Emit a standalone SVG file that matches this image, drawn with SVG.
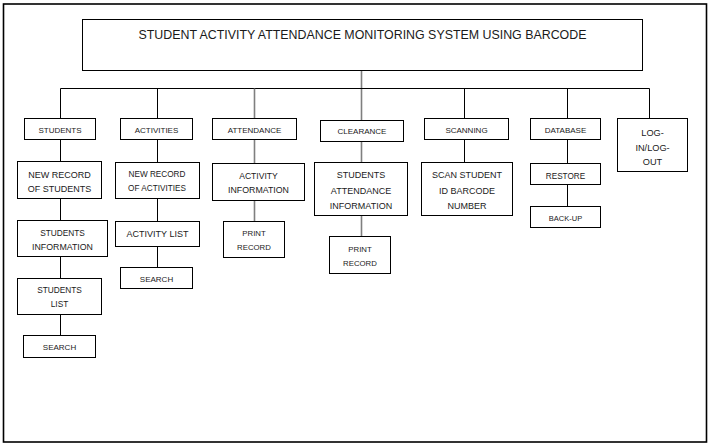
<svg xmlns="http://www.w3.org/2000/svg" width="712" height="445" viewBox="0 0 712 445">
<style>
.b{fill:#fff;stroke:#000;stroke-width:1}
.t{font-family:"Liberation Sans",Arial,sans-serif;fill:#1a1a1a;text-anchor:middle}
.c{stroke:#000;stroke-width:1;fill:none}
.g{stroke:#7f7f7f;stroke-width:1.6;fill:none}
</style>
<rect x="0" y="0" width="712" height="445" fill="#fff"/>
<rect x="3.5" y="4" width="703" height="438" fill="#fff" stroke="#000" stroke-width="1.6"/>
<g id="connectors">
<path class="g" d="M361.5 70.5V120"/>
<path class="c" d="M60.5 88.5H649.5"/>
<path class="c" d="M60.5 88.5V118.5M60.5 139.5V161.5M60.5 198.5V220.5M60.5 256.5V278.5M60.5 314.5V335.5"/>
<path class="c" d="M157.5 88.5V118.5M157.5 139.5V162.5M157.5 198.5V221.5M157.5 246.5V267.5"/>
<path class="g" d="M254.5 88.5V118.5M254.5 139.5V163.5M254.5 200.5V221.5"/>
<path class="g" d="M361.5 141.5V162.5M361.5 215.5V236.5"/>
<path class="c" d="M464.5 88.5V118.5M464.5 139.5V162.5"/>
<path class="c" d="M567.5 88.5V118.5M567.5 139.5V163.5M567.5 184.5V206.5"/>
<path class="c" d="M649.5 88.5V118.5"/>
</g>
<g id="title"><rect class="b" x="82.5" y="19.5" width="560" height="51"/><text class="t" x="362.5" y="38.5" font-size="12.4">STUDENT ACTIVITY ATTENDANCE MONITORING SYSTEM USING BARCODE</text></g>
<g id="students"><rect class="b" x="24.5" y="118.5" width="71" height="21"/><text class="t" x="60" y="132.5" font-size="8">STUDENTS</text></g>
<g id="new-record-students"><rect class="b" x="17.5" y="161.5" width="84" height="37"/><text class="t" x="59.5" y="177.5" font-size="9">NEW RECORD</text><text class="t" x="59.5" y="192" font-size="9">OF STUDENTS</text></g>
<g id="students-information"><rect class="b" x="17.5" y="220.5" width="90" height="36"/><text class="t" x="62.5" y="235.5" font-size="8.3">STUDENTS</text><text class="t" x="62.5" y="249.5" font-size="8.8">INFORMATION</text></g>
<g id="students-list"><rect class="b" x="17.5" y="278.5" width="84" height="36"/><text class="t" x="59.5" y="293" font-size="8.3">STUDENTS</text><text class="t" x="59.5" y="307" font-size="8.3">LIST</text></g>
<g id="students-search"><rect class="b" x="23.5" y="335.5" width="72" height="22"/><text class="t" x="59.5" y="350" font-size="8">SEARCH</text></g>
<g id="activities"><rect class="b" x="120.5" y="118.5" width="72" height="21"/><text class="t" x="156.5" y="132.5" font-size="8">ACTIVITIES</text></g>
<g id="new-record-activities"><rect class="b" x="115.5" y="162.5" width="84" height="36"/><text class="t" x="157" y="177" font-size="8.2">NEW RECORD</text><text class="t" x="157" y="191" font-size="8.2">OF ACTIVITIES</text></g>
<g id="activity-list"><rect class="b" x="115.5" y="221.5" width="84" height="25"/><text class="t" x="157.5" y="237" font-size="9">ACTIVITY LIST</text></g>
<g id="activities-search"><rect class="b" x="120.5" y="267.5" width="72" height="21"/><text class="t" x="156.5" y="281.5" font-size="8">SEARCH</text></g>
<g id="attendance"><rect class="b" x="212.5" y="118.5" width="84" height="21"/><text class="t" x="254.5" y="132.5" font-size="8">ATTENDANCE</text></g>
<g id="activity-information"><rect class="b" x="212.5" y="163.5" width="92" height="37"/><text class="t" x="258.5" y="179" font-size="8.6">ACTIVITY</text><text class="t" x="258.5" y="193" font-size="8.8">INFORMATION</text></g>
<g id="attendance-print"><rect class="b" x="223.5" y="221.5" width="61" height="36"/><text class="t" x="254" y="236" font-size="7.8">PRINT</text><text class="t" x="254" y="250" font-size="7.8">RECORD</text></g>
<g id="clearance"><rect class="b" x="320.5" y="120.5" width="83" height="21"/><text class="t" x="362" y="134" font-size="8">CLEARANCE</text></g>
<g id="students-attendance-information"><rect class="b" x="314.5" y="162.5" width="93" height="53"/><text class="t" x="361" y="178" font-size="9">STUDENTS</text><text class="t" x="361" y="193.5" font-size="9">ATTENDANCE</text><text class="t" x="361" y="208.5" font-size="9">INFORMATION</text></g>
<g id="clearance-print"><rect class="b" x="329.5" y="236.5" width="61" height="37"/><text class="t" x="360" y="251.5" font-size="7.8">PRINT</text><text class="t" x="360" y="266" font-size="7.8">RECORD</text></g>
<g id="scanning"><rect class="b" x="424.5" y="118.5" width="84" height="21"/><text class="t" x="466.5" y="132.5" font-size="8">SCANNING</text></g>
<g id="scan-student"><rect class="b" x="421.5" y="162.5" width="91" height="53"/><text class="t" x="467" y="178" font-size="9">SCAN STUDENT</text><text class="t" x="467" y="193.5" font-size="9">ID BARCODE</text><text class="t" x="467" y="209" font-size="9">NUMBER</text></g>
<g id="database"><rect class="b" x="530.5" y="118.5" width="70" height="21"/><text class="t" x="565.5" y="132.5" font-size="8">DATABASE</text></g>
<g id="restore"><rect class="b" x="530.5" y="163.5" width="70" height="21"/><text class="t" x="565.5" y="178.5" font-size="8.2">RESTORE</text></g>
<g id="backup"><rect class="b" x="530.5" y="206.5" width="70" height="21"/><text class="t" x="565.5" y="221" font-size="7.5">BACK-UP</text></g>
<g id="login"><rect class="b" x="617.5" y="118.5" width="70" height="53"/><text class="t" x="652.5" y="135.5" font-size="9.2">LOG-</text><text class="t" x="652.5" y="150.5" font-size="9.2">IN/LOG-</text><text class="t" x="652.5" y="164.5" font-size="9.2">OUT</text></g>
</svg>
